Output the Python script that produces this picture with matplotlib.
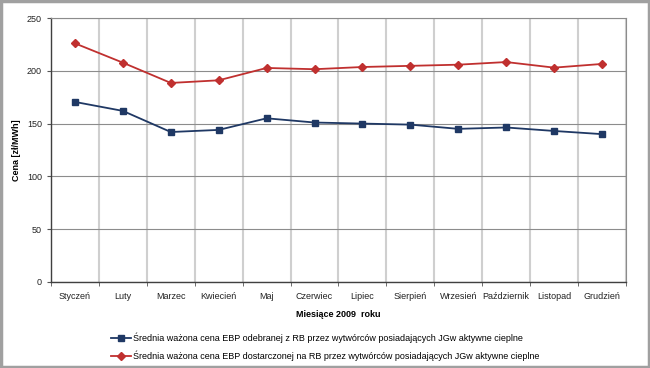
import matplotlib
matplotlib.use("Agg")
import matplotlib.pyplot as plt
from matplotlib.patches import Rectangle
import numpy as np

months = ["Styczeń", "Luty", "Marzec", "Kwiecień", "Maj", "Czerwiec", "Lipiec",
          "Sierpień", "Wrzesień", "Październik", "Listopad", "Grudzień"]
odebranej = [170.5, 162, 142, 144, 155, 151, 150, 149, 145, 146.3, 143, 140]
dostarczonej = [226, 207.7, 188.5, 191, 202.7, 201.5, 203.6, 204.7, 205.8, 208.3, 203, 206.5]
label1 = "Średnia ważona cena EBP odebranej z RB przez wytwórców posiadających JGw aktywne cieplne"
label2 = "Średnia ważona cena EBP dostarczonej na RB przez wytwórców posiadających JGw aktywne cieplne"

plt.rcParams['font.family'] = ['Liberation Sans', 'DejaVu Sans']

fig = plt.figure(figsize=(6.5, 3.68), dpi=100)
fig.patches.append(Rectangle((0.002, 0.004), 0.996, 0.992, transform=fig.transFigure,
                             fill=False, edgecolor='#a0a0a0', linewidth=2.5))
ax = fig.add_axes([0.0785, 0.234, 0.8845, 0.717])

x = np.arange(len(months))
ax.plot(x, odebranej, color='#1f3864', marker='s', markersize=4.5, linewidth=1.3, label=label1)
ax.plot(x, dostarczonej, color='#c0302f', marker='D', markersize=3.8, linewidth=1.3, label=label2)

ax.set_xlim(-0.5, len(months) - 0.5)
ax.set_ylim(0, 250)
ax.set_yticks([0, 50, 100, 150, 200, 250])
ax.set_xticks(x)
ax.set_xticklabels(months, fontsize=6.5, color='#222222')
ax.tick_params(axis='x', length=0, pad=7)
ax.set_xticks(np.arange(-0.5, len(months)), minor=True)
ax.tick_params(axis='x', which='minor', length=3, color='#555555')
ax.tick_params(axis='y', labelsize=6.5, length=3, color='#555555', labelcolor='#222222')

ax.grid(axis='y', which='major', color='#8c8c8c', linewidth=0.8)
ax.grid(axis='x', which='minor', color='#cfcfcf', linewidth=1.5)
ax.set_axisbelow(True)

for s in ['top', 'right']:
    ax.spines[s].set_color('#8c8c8c')
    ax.spines[s].set_linewidth(0.8)
for s in ['left', 'bottom']:
    ax.spines[s].set_color('#404040')
    ax.spines[s].set_linewidth(1.0)

ax.set_ylabel("Cena [zł/MWh]", fontsize=6.5, fontweight='bold', labelpad=4)
ax.set_xlabel("Miesiące 2009  roku", fontsize=6.5, fontweight='bold', labelpad=7)

fig.legend(loc='upper left', bbox_to_anchor=(0.165, 0.105), frameon=False,
           fontsize=6.5, handlelength=2.2, handletextpad=0.2, labelspacing=0.75,
           borderaxespad=0)

fig.savefig("out.png", dpi=100)
